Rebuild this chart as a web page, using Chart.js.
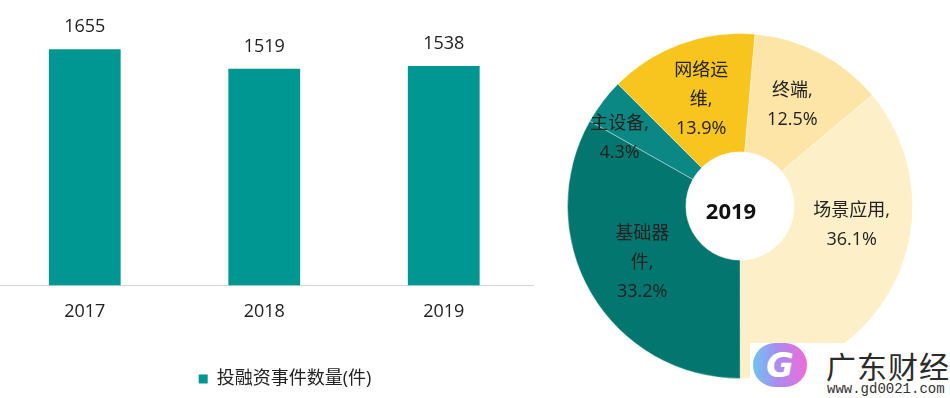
<!DOCTYPE html>
<html>
<head>
<meta charset="utf-8">
<script src="https://cdn.jsdelivr.net/npm/chart.js@4"></script>
<style>
  html, body { margin:0; padding:0; background:#fff; width:950px; height:398px; overflow:hidden; position:relative; }
  #barWrap { position:absolute; left:-5px; top:0; width:580px; height:398px; }
  #pieWrap { position:absolute; left:567px; top:33px; width:346px; height:346px; }
  #wm { position:absolute; left:750px; top:343px; width:200px; height:55px; background:#fff; }
  #logo { position:absolute; left:3px; top:0px; width:54px; height:44px; border-radius:22px;
          background:linear-gradient(90deg,#6fc3f0 0%,#a98cf0 45%,#f06ad8 100%); }
  #logo span { position:absolute; left:0; width:54px; top:2px; text-align:center; color:#fff;
          font:italic bold 34px "DejaVu Sans", sans-serif; }
  #wmTitle { position:absolute; left:76px; top:4px; font:30px "Noto Sans CJK SC", sans-serif; color:#2b2b2b; line-height:36px; letter-spacing:1px; }
  #wmUrl { position:absolute; left:77px; top:38px; font:14px "Liberation Mono", "DejaVu Sans Mono", monospace; color:#333; line-height:16px; }
</style>
</head>
<body>
<div id="barWrap"><canvas id="bar"></canvas></div>
<div id="pieWrap"><canvas id="pie"></canvas></div>
<div id="wm"><div id="logo"><span>G</span></div><div id="wmTitle">广东财经</div><div id="wmUrl">www.gd0021.com</div></div>
<script>
// ---- data ----
const years = ["2017", "2018", "2019"];
const dealCounts = [1655, 1519, 1538];
const barSeriesName = "投融资事件数量(件)";

const pieYear = "2019";
const segments = ["场景应用", "基础器件", "主设备", "网络运维", "终端"];
const segmentShares = [36.1, 33.2, 4.3, 13.9, 12.5];
// wrapped label text (name lines), as shown in the picture
const segmentNameLines = [["场景应用,"], ["基础器", "件,"], ["主设备,"], ["网络运", "维,"], ["终端,"]];

// ---- styles ----
const FONT = '"Open Sans", "Noto Sans CJK SC", sans-serif';
const TEXT = '#222222';
const barColor = '#009691';
const segColors = ['#FDEFC7', '#02766F', '#0B8884', '#F8C41E', '#FCE5A6'];
const labelAdjust = [{da:-15, rf:1.0}, {da:0, rf:1.0}, {da:-7.8, rf:1.22}, {da:0, rf:1.0}, {da:0, rf:1.0}];

const barLabels = {
  id: 'barLabels',
  afterDatasetsDraw(chart) {
    const ctx = chart.ctx;
    const meta = chart.getDatasetMeta(0);
    ctx.save();
    ctx.font = '18px ' + FONT;
    ctx.fillStyle = TEXT;
    ctx.textAlign = 'center';
    ctx.textBaseline = 'middle';
    meta.data.forEach((el, i) => {
      ctx.fillText(String(dealCounts[i]), el.x, el.y - 22);
    });
    ctx.restore();
  }
};

new Chart(document.getElementById('bar'), {
  type: 'bar',
  data: {
    labels: years,
    datasets: [{
      label: barSeriesName,
      data: dealCounts,
      backgroundColor: barColor,
      borderWidth: 0,
      categoryPercentage: 0.8,
      barPercentage: 0.5
    }]
  },
  options: {
    responsive: true,
    maintainAspectRatio: false,
    animation: false,
    layout: { padding: 0 },
    plugins: {
      legend: {
        position: 'bottom',
        labels: { boxWidth: 9, boxHeight: 9, padding: 10, color: TEXT, font: { size: 18, family: FONT } }
      },
      tooltip: { enabled: false }
    },
    scales: {
      x: {
        grid: { display: false },
        border: { display: true, color: '#d4d4d4', width: 1 },
        ticks: { color: TEXT, font: { size: 18, family: FONT }, padding: 8 },
        afterFit(scale) { scale.height = 74.5; }
      },
      y: { display: false, min: 0, max: 2000 },
      yPad: {
        position: 'right', display: true,
        grid: { display: false }, border: { display: false }, ticks: { display: false },
        afterFit(scale) { scale.width = 41.5; }
      }
    }
  },
  plugins: [barLabels]
});

const pieLabels = {
  id: 'pieLabels',
  afterDatasetsDraw(chart) {
    const ctx = chart.ctx;
    const meta = chart.getDatasetMeta(0);
    ctx.save();
    ctx.font = '18px ' + FONT;
    ctx.fillStyle = TEXT;
    ctx.textAlign = 'center';
    ctx.textBaseline = 'middle';
    const lh = 29;
    let cx = 0, cy = 0;
    meta.data.forEach((arc, i) => {
      const p = arc.getProps(['x','y','startAngle','endAngle','innerRadius','outerRadius'], true);
      cx = p.x; cy = p.y;
      const mid = (p.startAngle + p.endAngle) / 2 + labelAdjust[i].da * Math.PI / 180;
      const r = (p.innerRadius + p.outerRadius) / 2 * labelAdjust[i].rf;
      const x = p.x + Math.cos(mid) * r;
      const y = p.y + Math.sin(mid) * r;
      const lines = segmentNameLines[i].concat([segmentShares[i].toFixed(1) + '%']);
      const top = y - (lines.length - 1) * lh / 2;
      lines.forEach((t, k) => ctx.fillText(t, x, top + k * lh));
    });
    ctx.font = 'bold 22px ' + FONT;
    ctx.fillStyle = '#111';
    ctx.fillText(pieYear, cx - 9, cy + 7);
    ctx.restore();
  }
};

new Chart(document.getElementById('pie'), {
  type: 'doughnut',
  data: {
    labels: segments,
    datasets: [{
      data: segmentShares,
      backgroundColor: segColors,
      borderColor: 'rgba(255,255,255,0.35)',
      borderWidth: 1,
      hoverOffset: 0
    }]
  },
  options: {
    responsive: true,
    maintainAspectRatio: false,
    animation: false,
    rotation: 50,
    cutout: '31.4%',
    layout: { padding: 0 },
    plugins: { legend: { display: false }, tooltip: { enabled: false } }
  },
  plugins: [pieLabels]
});
</script>
</body>
</html>
